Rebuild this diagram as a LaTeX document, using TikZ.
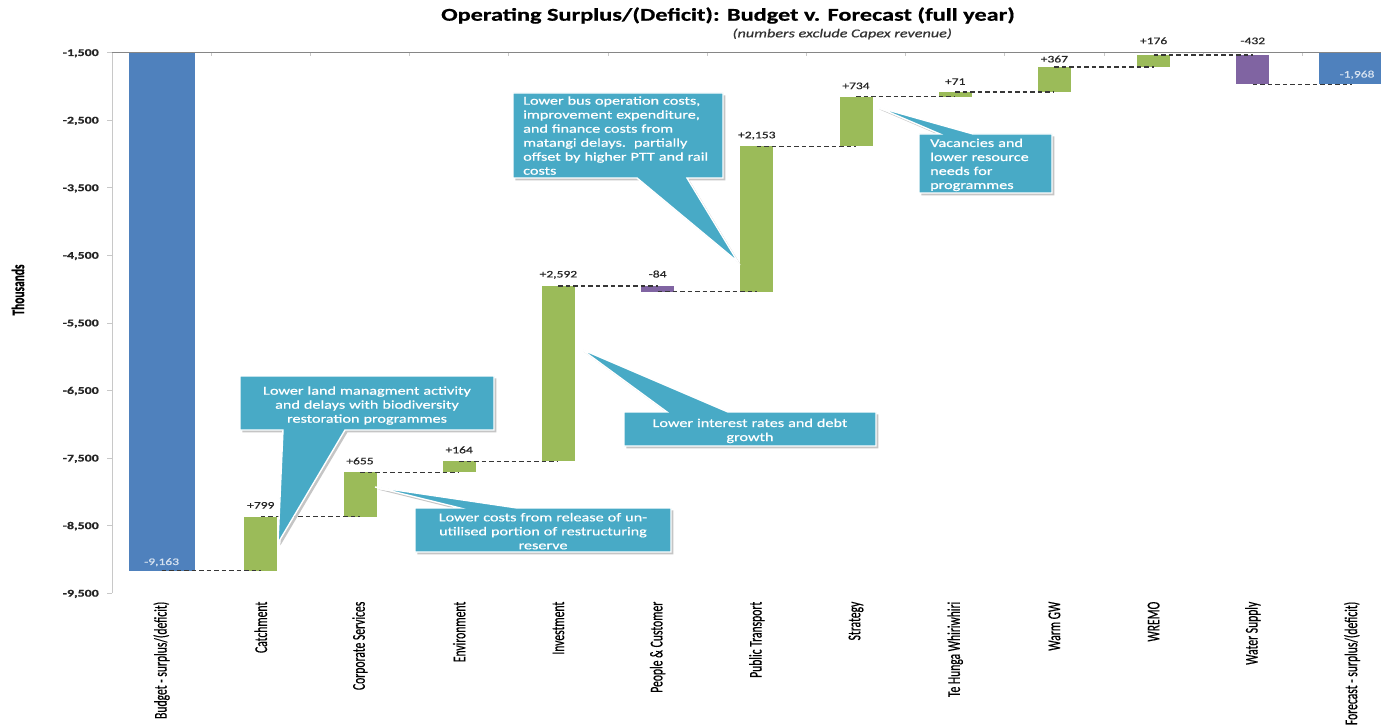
\documentclass[tikz,border=0pt]{standalone}
\usepackage{fontspec}
\usepackage{graphicx}
\setmainfont{Carlito}[FakeBold=0.6]
\newfontfamily\wide[FakeStretch=1.35, FakeBold=0.6]{Carlito}
\definecolor{barblue}{RGB}{79,129,189}
\definecolor{bargreen}{RGB}{155,187,89}
\definecolor{barpurple}{RGB}{128,100,162}
\definecolor{callc}{RGB}{72,170,198}
\definecolor{axisgrey}{RGB}{134,134,134}
\definecolor{axislight}{RGB}{200,200,200}
\definecolor{dashc}{RGB}{55,55,55}
\definecolor{inlabc}{RGB}{214,226,240}
\newcommand\thk[1]{\scalebox{1}[1.55]{#1}}
\newcommand\wfbar[6]{%
  \node[inner sep=0pt, outer sep=0pt, fill=#5, minimum width=#6pt,
        minimum height={abs(vy(#4)-vy(#3))}] (#1) at ({cx(#2)},{(vy(#3)+vy(#4))/2}) {};}
\tikzset{
  conn/.style={draw=dashc, line width=1.4pt, dash pattern=on 4.5pt off 3pt},
  vlab/.style={anchor=base, inner sep=0pt, text=black!85, font=\wide\fontsize{10}{12}\selectfont},
  inlab/.style={anchor=base, inner sep=0pt, text=inlabc, font=\wide\fontsize{10}{12}\selectfont},
  ylab/.style={anchor=base east, inner sep=0pt, text=black!85, font=\wide\bfseries\fontsize{10.3}{12}\selectfont},
  catlab/.style={rotate=90, anchor=east, inner sep=0pt, text=black, font=\fontsize{11.6}{13}\selectfont},
  callout/.style={fill=callc, draw=white, line width=1.4pt, line join=miter},
  cshadow/.style={fill=black!45, opacity=0.5, draw=none, transform canvas={xshift=2.4pt, yshift=-2.4pt}},
  ctext/.style={inner sep=0pt, text=white, font=\wide\fontsize{12}{14}\selectfont},
  axisline/.style={draw=axisgrey, line width=1.4pt},
  yaxisline/.style={draw=axislight, line width=0.9pt},
}
\begin{document}
\begin{tikzpicture}[x=1pt, y=-1pt,
  declare function={cx(\i)=161.6+99.2*\i; vy(\v)=52.7+(-1500-(\v))*0.06758;}]
\clip (0,0) rectangle (1381,727);
\fill[white] (0,0) rectangle (1381,727);

% title
\node[anchor=base, inner sep=0pt, font=\wide\bfseries\fontsize{18}{22}\selectfont] (title) at (728,20.7)
  {Operating Surplus/(Deficit): Budget v. Forecast (full year)};
\node[anchor=base east, inner sep=0pt, text=black!80, font=\wide\itshape\fontsize{12}{14}\selectfont] (subtitle) at (952,37.3)
  {(numbers exclude Capex revenue)};

% bars
\wfbar{bud}{0}{-1500}{-9163}{barblue}{66}
\wfbar{catch}{1}{-9163}{-8364}{bargreen}{33}
\wfbar{corp}{2}{-8364}{-7709}{bargreen}{33}
\wfbar{env}{3}{-7709}{-7545}{bargreen}{33}
\wfbar{inv}{4}{-7545}{-4953}{bargreen}{33}
\wfbar{ppl}{5}{-4953}{-5037}{barpurple}{33}
\wfbar{pt}{6}{-5037}{-2884}{bargreen}{33}
\wfbar{strat}{7}{-2884}{-2150}{bargreen}{33}
\wfbar{te}{8}{-2150}{-2079}{bargreen}{33}
\wfbar{warm}{9}{-2079}{-1712}{bargreen}{33}
\wfbar{wremo}{10}{-1712}{-1536}{bargreen}{33}
\wfbar{water}{11}{-1536}{-1968}{barpurple}{33}
\wfbar{fc}{12}{-1500}{-1968}{barblue}{66}

% dashed connectors
\draw[conn] (bud.south) -- (bud.south -| catch.center);
\draw[conn] (catch.north) -- (catch.north -| corp.center);
\draw[conn] (corp.north) -- (corp.north -| env.center);
\draw[conn] (env.north) -- (env.north -| inv.center);
\draw[conn] (inv.north) -- (inv.north -| ppl.center);
\draw[conn] (ppl.south) -- (ppl.south -| pt.center);
\draw[conn] (pt.north) -- (pt.north -| strat.center);
\draw[conn] (strat.north) -- (strat.north -| te.center);
\draw[conn] (te.north) -- (te.north -| warm.center);
\draw[conn] (warm.north) -- (warm.north -| wremo.center);
\draw[conn] (wremo.north) -- (wremo.north -| water.center);
\draw[conn] (water.south) -- (water.south -| fc.center);

% axes
\draw[yaxisline] (112,52.7) -- (112,593.3);
\foreach \k in {1,...,9} {
  \draw[yaxisline] (107,{vy(-500-1000*\k)}) -- (112,{vy(-500-1000*\k)});
  \node[ylab] (y\k) at (99,{vy(-500-1000*\k)+3.3}) {-\k,500};
}
\draw[axisline] (112,52.7) -- (1381,52.7);
\foreach \k in {1,...,12} {
  \draw[draw=axislight, line width=0.9pt] ({112+99.2*\k},52.7) -- ({112+99.2*\k},55.8);
}

% value labels
\node[inlab] (lbud) at ([yshift=5.6pt]bud.south) {-9,163};
\node[vlab] (lcatch) at ([yshift=8pt]catch.north) {+799};
\node[vlab] (lcorp) at ([yshift=8pt]corp.north) {+655};
\node[vlab] (lenv) at ([yshift=8pt]env.north) {+164};
\node[vlab] (linv) at ([yshift=8.6pt]inv.north) {+2,592};
\node[vlab] (lppl) at ([yshift=8.6pt]ppl.north) {-84};
\node[vlab] (lpt) at ([yshift=8pt]pt.north) {+2,153};
\node[vlab] (lstrat) at ([yshift=7.5pt]strat.north) {+734};
\node[vlab] (lte) at ([yshift=7pt]te.north) {+71};
\node[vlab] (lwarm) at ([yshift=4.6pt]warm.north) {+367};
\node[vlab] (lwremo) at ([yshift=11pt]wremo.north) {+176};
\node[vlab] (lwater) at ([yshift=11pt]water.north) {-432};
\node[inlab] (lfc) at ([xshift=5pt,yshift=6.8pt]fc.south) {-1,968};

% axis title and categories
\node[rotate=90, inner sep=0pt, font=\bfseries\fontsize{11.4}{13}\selectfont] (ytitle) at (18,290) {\thk{Thousands}};
\node[catlab] (x0) at ({cx(0)},601.5) {\thk{Budget - surplus/(deficit)}};
\node[catlab] (x1) at ({cx(1)},601.5) {\thk{Catchment}};
\node[catlab] (x2) at ({cx(2)},601.5) {\thk{Corporate Services}};
\node[catlab] (x3) at ({cx(3)},601.5) {\thk{Environment}};
\node[catlab] (x4) at ({cx(4)},601.5) {\thk{Investment}};
\node[catlab] (x5) at ({cx(5)},601.5) {\thk{People \& Customer}};
\node[catlab] (x6) at ({cx(6)},601.5) {\thk{Public Transport}};
\node[catlab] (x7) at ({cx(7)},601.5) {\thk{Strategy}};
\node[catlab] (x8) at ({cx(8)},601.5) {\thk{Te Hunga Whiriwhiri}};
\node[catlab] (x9) at ({cx(9)},601.5) {\thk{Warm GW}};
\node[catlab] (x10) at ({cx(10)},601.5) {\thk{WREMO}};
\node[catlab] (x11) at ({cx(11)},601.5) {\thk{Water Supply}};
\node[catlab] (x12) at ({cx(12)},601.5) {\thk{Forecast - surplus/(deficit)}};

% callout A: Catchment
\coordinate (tipA) at (278,543);
\path[cshadow] (240,376) -- (494,376) -- (494,430) -- (345,430) -- (tipA) -- (283,430) -- (240,430) -- cycle;
\path[callout] (240,376) -- (494,376) -- (494,430) -- (345,430) -- (tipA) -- (283,430) -- (240,430) -- cycle;
\begin{scope}
\clip (241,377) rectangle (493,429);
\node[ctext, text width=250pt, align=center, anchor=base] (tA) at (367,394.7)
  {Lower land managment activity\\and delays with biodiversity\\restoration programmes};
\end{scope}

% callout B: Corporate Services
\coordinate (tipB) at (375,487);
\path[cshadow] (415,508) -- (460,508) -- (tipB) -- (517,508) -- (671,508) -- (671,552) -- (415,552) -- cycle;
\path[callout] (415,508) -- (460,508) -- (tipB) -- (517,508) -- (671,508) -- (671,552) -- (415,552) -- cycle;
\begin{scope}
\clip (416,509) rectangle (670,551);
\node[ctext, text width=252pt, align=center, anchor=base] (tB) at (543,521.3)
  {Lower costs from release of un-\\utilised portion of restructuring\\reserve};
\end{scope}

% callout C: Investment
\coordinate (tipC) at (581,349);
\path[cshadow] (624,412) -- (667,412) -- (tipC) -- (728,412) -- (876,412) -- (876,446) -- (624,446) -- cycle;
\path[callout] (624,412) -- (667,412) -- (tipC) -- (728,412) -- (876,412) -- (876,446) -- (624,446) -- cycle;
\begin{scope}
\clip (625,413) rectangle (875,445);
\node[ctext, text width=248pt, align=center, anchor=base] (tC) at (750,427)
  {Lower interest rates and debt\\growth};
\end{scope}

% callout D: Public Transport
\coordinate (tipD) at (738,262);
\path[cshadow] (513,93) -- (723,93) -- (723,178) -- (687,178) -- (tipD) -- (637,178) -- (513,178) -- cycle;
\path[callout] (513,93) -- (723,93) -- (723,178) -- (687,178) -- (tipD) -- (637,178) -- (513,178) -- cycle;
\begin{scope}
\clip (514,94) rectangle (722,177);
\node[ctext, text width=195pt, align=left, anchor=base west] (tD) at (523,104.7)
  {Lower bus operation costs,\\improvement expenditure,\\and finance costs from\\matangi delays.\ \ partially\\offset by higher PTT and rail\\costs};
\end{scope}

% callout E: Strategy
\coordinate (tipE) at (877,107);
\path[cshadow] (919,134) -- (940,134) -- (tipE) -- (973,134) -- (1052,134) -- (1052,193) -- (919,193) -- cycle;
\path[callout] (919,134) -- (940,134) -- (tipE) -- (973,134) -- (1052,134) -- (1052,193) -- (919,193) -- cycle;
\begin{scope}
\clip (920,135) rectangle (1051,192);
\node[ctext, text width=118pt, align=left, anchor=base west] (tE) at (930,147)
  {Vacancies and\\lower resource\\needs for\\programmes};
\end{scope}
\end{tikzpicture}
\end{document}
